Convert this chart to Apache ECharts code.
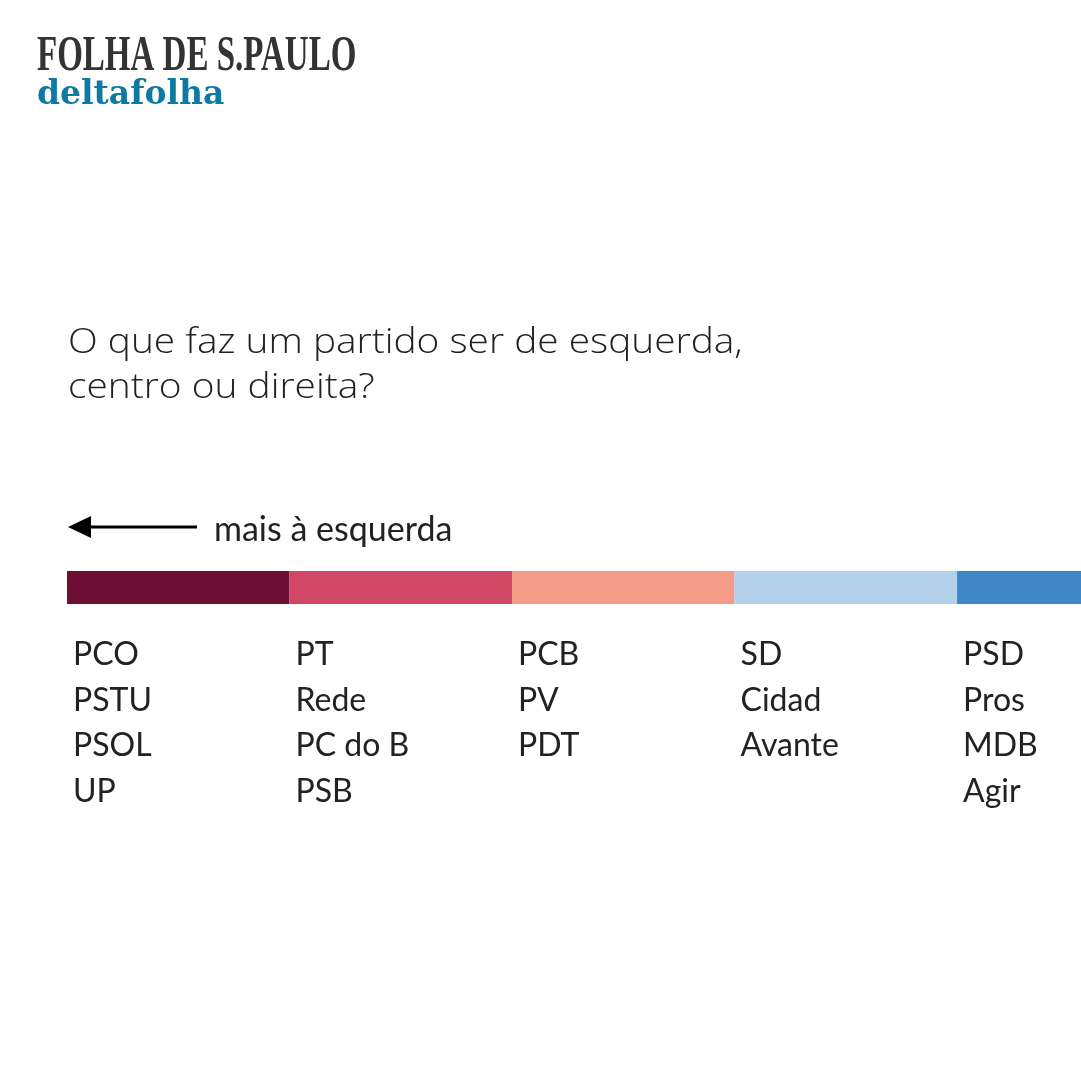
<!DOCTYPE html>
<html>
<head>
<meta charset="utf-8">
<script src="https://cdn.jsdelivr.net/npm/echarts@6/dist/echarts.min.js"></script>
<style>html,body{margin:0;padding:0;background:#fff}#c{width:1081px;height:1081px}</style>
</head>
<body>
<div id="c"></div>
<script>
const titleLines = ['O que faz um partido ser de esquerda,', 'centro ou direita?'];
const directionLabel = 'mais à esquerda';
const segmentNames = ['Esquerda', 'Centro-esquerda', 'Centro', 'Centro-direita', 'Direita'];
const segmentValues = [1, 1, 1, 1, 1];
const segmentColors = ['#6d0e35', '#d14766', '#f59c89', '#b4d1ec', '#3f86c6'];
const partiesEsquerda = ['PCO', 'PSTU', 'PSOL', 'UP'];
const partiesCentroEsquerda = ['PT', 'Rede', 'PC do B', 'PSB'];
const partiesCentro = ['PCB', 'PV', 'PDT'];
const partiesCentroDireita = ['SD', 'Cidad', 'Avante'];
const partiesDireita = ['PSD', 'Pros', 'MDB', 'Agir'];
const partyLists = [partiesEsquerda, partiesCentroEsquerda, partiesCentro, partiesCentroDireita, partiesDireita];
// visible part of the scale: the last segment runs off the right edge
const scaleMax = 4.557;

const chart = echarts.init(document.getElementById('c'), null, {renderer: 'canvas'});
const labelFont = 'Lato, "Noto Sans", sans-serif';

const series = segmentNames.map((name, i) => ({
  name: name,
  type: 'bar',
  stack: 'scale',
  barWidth: '100%',
  silent: true,
  itemStyle: {color: segmentColors[i]},
  label: {
    show: true,
    position: [6, 61],
    align: 'left',
    verticalAlign: 'top',
    fontFamily: labelFont,
    fontSize: 32,
    lineHeight: 45.5,
    color: '#222',
    formatter: () => partyLists[i].join('\n')
  },
  data: [segmentValues[i]]
}));

chart.setOption({
  animation: false,
  backgroundColor: '#fff',
  grid: {left: 67, top: 571, height: 33, right: 0, containLabel: false},
  xAxis: {type: 'value', min: 0, max: scaleMax, show: false},
  yAxis: {type: 'category', data: ['escala'], show: false},
  series: series,
  graphic: [
    {type: 'text', left: 37, top: 32, scaleX: 0.66, style: {text: 'FOLHA DE S.PAULO', font: 'bold 50px "Liberation Serif", serif', fill: '#333'}},
    {type: 'text', left: 37, top: 79, style: {text: 'deltafolha', font: 'bold 33px "DejaVu Serif", serif', fill: '#0e7aa3'}},
    {type: 'text', left: 68, top: 321, scaleX: 1.11, style: {text: titleLines.join('\n'), font: '300 35px "Open Sans", sans-serif', lineHeight: 45, fill: '#222'}},
    {type: 'line', shape: {x1: 80, y1: 527, x2: 197, y2: 527}, style: {stroke: '#000', lineWidth: 3}},
    {type: 'polygon', shape: {points: [[68, 527], [91, 516], [91, 538]]}, style: {fill: '#000'}},
    {type: 'text', left: 214, top: 513, style: {text: directionLabel, font: '34px ' + labelFont, fill: '#222'}}
  ]
});
</script>
</body>
</html>
